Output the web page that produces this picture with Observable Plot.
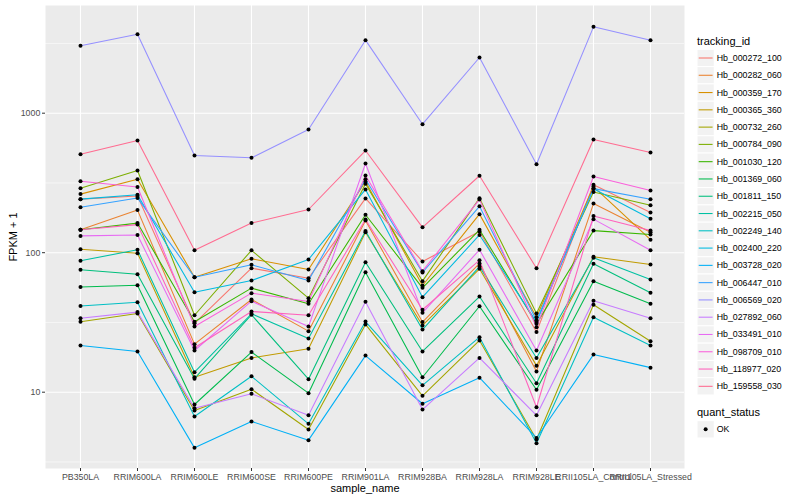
<!DOCTYPE html>
<html><head><meta charset="utf-8">
<script src="https://cdn.jsdelivr.net/npm/d3@7"></script>
<script src="https://cdn.jsdelivr.net/npm/@observablehq/plot@0.6"></script>
<style>
body{margin:0;background:#fff;font-family:"Liberation Sans",Arial,Helvetica,sans-serif;}
#wrap{position:relative;width:800px;height:500px;overflow:hidden;}
#legend{position:absolute;left:0;top:0;pointer-events:none;}
</style></head><body><div id="wrap"></div>
<script>
const samples = ["PB350LA","RRIM600LA","RRIM600LE","RRIM600SE","RRIM600PE","RRIM901LA","RRIM928BA","RRIM928LA","RRIM928LE","RRII105LA_Control","RRII105LA_Stressed"];
const trackingIds = ["Hb_000272_100","Hb_000282_060","Hb_000359_170","Hb_000365_360","Hb_000732_260","Hb_000784_090","Hb_001030_120","Hb_001369_060","Hb_001811_150","Hb_002215_050","Hb_002249_140","Hb_002400_220","Hb_003728_020","Hb_006447_010","Hb_006569_020","Hb_027892_060","Hb_033491_010","Hb_098709_010","Hb_118977_020","Hb_159558_030"];
const quantStatus = ["OK"];

const s01 = [242,255,31.2,77.4,65.6,245,86.5,142,27,307,194];
const s02 = [146,202,22.1,46.2,27.4,170,31.8,83.7,14.1,225,140];
const s03 = [263,336,66.7,90.4,75.8,324,58.2,189,34.5,298,124];
const s04 = [106,99.2,12.8,17.6,20.5,140,30.1,76.7,15.5,93.5,82.3];
const s05 = [32,36.7,7.39,10.5,5.4,30.6,9.42,23.5,4.58,42.3,23.2];
const s06 = [290,388,35.6,104,47.2,312,62.5,246,36.6,272,219];
const s07 = [146,163,32,55.7,43,187,56,146,30.9,144,135];
const s08 = [56.8,58.5,8.16,19.4,9.84,72.5,12.8,41.3,10.4,62.5,43];
const s09 = [75.4,70.1,12.5,35.9,12.4,85.5,19.6,48.5,11.6,83.3,51.6];
const s10 = [87.5,105,13.9,36.5,24.3,143,28.1,79.6,17.6,91.9,64.3];
const s11 = [41.5,44.2,6.7,13,5.93,32.1,11.2,24.8,4.31,34.5,21.6];
const s12 = [242,260,52.1,63.2,89.4,284,48,134,31.8,287,175];
const s13 = [21.6,19.6,3.99,6.17,4.53,18.3,8.26,12.7,4.7,18.6,15];
const s14 = [212,247,66.7,81.9,63.2,336,72.1,215,32.7,288,242];
const s15 = [3041,3683,497,479,764,3338,834,2507,431,4160,3338];
const s16 = [33.9,37.5,7.68,9.74,6.84,44.5,7.51,17.6,6.83,45.2,33.9];
const s17 = [132,134,19.9,44.9,29.6,436,37.1,105,19.9,174,104];
const s18 = [325,296,29.6,51.3,44.7,357,73.7,241,29.2,352,279];
const s19 = [146,159,20.8,37.9,35.6,173,39,88.4,7.8,183,144];
const s20 = [508,637,104,163,204,540,152,356,77.4,648,523];
const seriesValues = [s01,s02,s03,s04,s05,s06,s07,s08,s09,s10,s11,s12,s13,s14,s15,s16,s17,s18,s19,s20];

const yMajorTicks = [10,100,1000];
const yMinorTicks = [3.1623,31.623,316.23,3162.3];

const palette = ["#F8766D","#EA8331","#D89000","#C09B00","#A3A500","#7CAE00","#39B600","#00BB4E","#00BF7D","#00C1A3","#00BFC4","#00BAE0","#00B0F6","#35A2FF","#9590FF","#C77CFF","#E76BF3","#FA62DB","#FF62BC","#FF6C91"];

const rows = [];
trackingIds.forEach((id,i)=>samples.forEach((s,j)=>rows.push({tracking_id:id,sample_name:s,fpkm1:seriesValues[i][j],quant_status:quantStatus[0]})));

const font = '"Liberation Sans",Arial,Helvetica,sans-serif';
const plot = Plot.plot({
  width:800, height:500,
  marginLeft:45, marginRight:116, marginTop:5, marginBottom:32,
  style:{fontFamily:font, fontSize:"8.8px", background:"transparent", color:"#000"},
  x:{type:"point", domain:samples, padding:0.6},
  y:{type:"log", domain:[2.838,5916]},
  color:{domain:trackingIds, range:palette},
  marks:[
    Plot.frame({fill:"#EBEBEB", stroke:"none"}),
    Plot.ruleY(yMinorTicks,{stroke:"#FFFFFF", strokeWidth:0.55}),
    Plot.ruleY(yMajorTicks,{stroke:"#FFFFFF", strokeWidth:1.1}),
    Plot.ruleX(samples,{stroke:"#FFFFFF", strokeWidth:1.1}),
    Plot.line(rows,{x:"sample_name", y:"fpkm1", z:"tracking_id", stroke:"tracking_id", strokeWidth:1.07}),
    Plot.dot(rows,{x:"sample_name", y:"fpkm1", r:2, fill:"#000", stroke:"none"}),
    Plot.axisX({tickSize:3, tickPadding:2.5, label:null, fill:"#4D4D4D", stroke:"#333333"}),
    Plot.axisY({ticks:yMajorTicks, tickFormat:d=>String(d), tickSize:3, tickPadding:2.2, label:null, fill:"#4D4D4D", stroke:"#333333"}),
    Plot.text(["sample_name"],{text:d=>d, frameAnchor:"bottom", dy:20, fontSize:11, fill:"#000", lineAnchor:"middle"}),
    Plot.text(["FPKM + 1"],{text:d=>d, frameAnchor:"left", dx:-32, rotate:-90, fontSize:11, fill:"#000", textAnchor:"middle", lineAnchor:"middle"})
  ]
});
const wrap = document.getElementById("wrap");
wrap.appendChild(plot);

// legend (ggplot style)
const lg = d3.select(wrap).append("svg").attr("id","legend").attr("width",800).attr("height",500)
  .style("font-family",font);
const keyX = 697, keySize = 17.28, y0 = 58;
lg.append("text").attr("x",keyX).attr("y",40.7).attr("dominant-baseline","central")
  .attr("font-size",11).text("tracking_id");
trackingIds.forEach((id,i)=>{
  const cy = y0 + keySize*i;
  lg.append("rect").attr("x",keyX).attr("y",cy-keySize/2).attr("width",keySize).attr("height",keySize)
    .attr("fill","#F2F2F2").attr("stroke","#FFFFFF");
  lg.append("line").attr("x1",keyX+1.7).attr("x2",keyX+keySize-1.7).attr("y1",cy).attr("y2",cy)
    .attr("stroke",palette[i]).attr("stroke-width",1.07);
  lg.append("text").attr("x",716.7).attr("y",cy).attr("dominant-baseline","central")
    .attr("font-size",8.8).text(id);
});
lg.append("text").attr("x",keyX).attr("y",412.3).attr("dominant-baseline","central")
  .attr("font-size",11).text("quant_status");
quantStatus.forEach((q,i)=>{
  const cy = 429.3 + keySize*i;
  lg.append("rect").attr("x",keyX).attr("y",cy-keySize/2).attr("width",keySize).attr("height",keySize)
    .attr("fill","#F2F2F2").attr("stroke","#FFFFFF");
  lg.append("circle").attr("cx",keyX+keySize/2).attr("cy",cy).attr("r",2).attr("fill","#000");
  lg.append("text").attr("x",716.7).attr("y",cy).attr("dominant-baseline","central")
    .attr("font-size",8.8).text(q);
});
</script></body></html>
